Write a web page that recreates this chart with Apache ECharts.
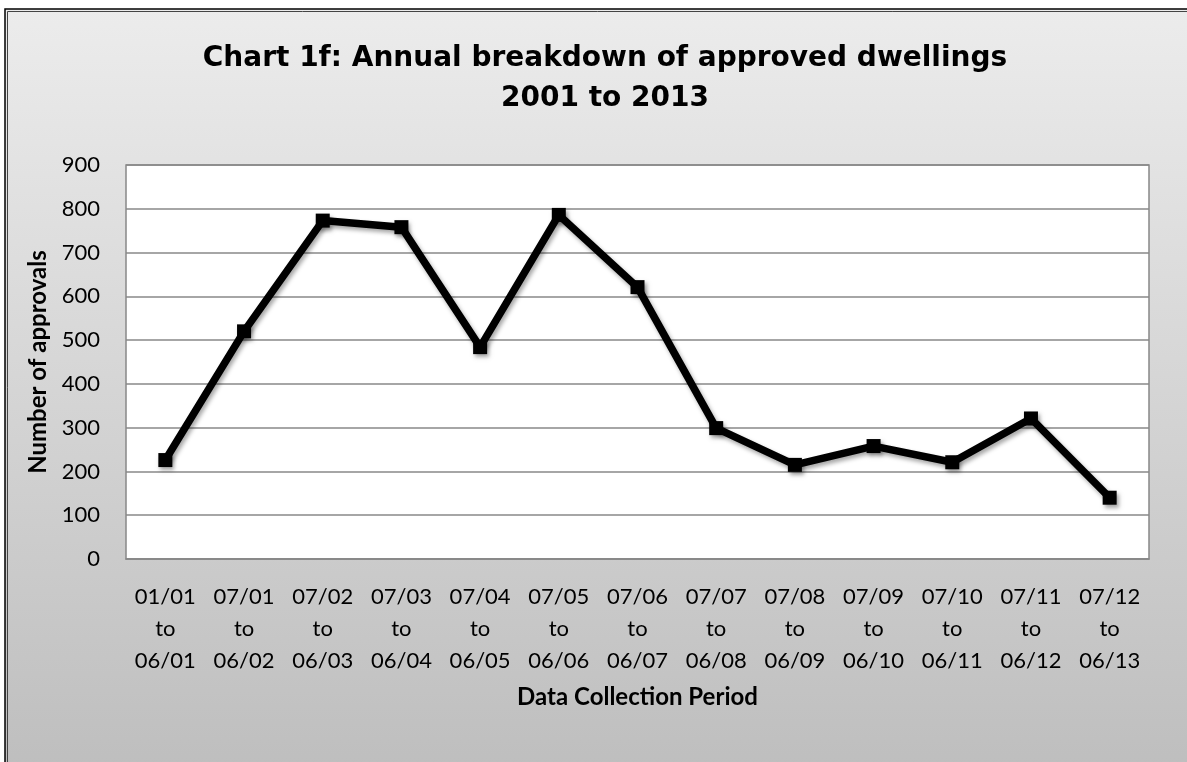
<!DOCTYPE html>
<html>
<head>
<meta charset="utf-8">
<script src="https://cdn.jsdelivr.net/npm/echarts@6/dist/echarts.min.js"></script>
<style>
html,body{margin:0;padding:0;background:#fff;}
#chart{width:1187px;height:762px;}
</style>
</head>
<body>
<div id="chart"></div>
<script>
// Data
var periods = ['01/01 to 06/01','07/01 to 06/02','07/02 to 06/03','07/03 to 06/04','07/04 to 06/05','07/05 to 06/06','07/06 to 06/07','07/07 to 06/08','07/08 to 06/09','07/09 to 06/10','07/10 to 06/11','07/11 to 06/12','07/12 to 06/13'];
var approvals = [226, 520, 773, 758, 484, 786, 621, 299, 215, 258, 221, 321, 140];
var yTicks = {min: 0, max: 900, interval: 100};
var titleText = 'Chart 1f: Annual breakdown of approved dwellings\n2001 to 2013';
var yName = 'Number of approvals';
var xName = 'Data Collection Period';

var chart = echarts.init(document.getElementById('chart'));
var labelFont = 'Lato, "Open Sans", sans-serif';
var option = {
  animation: false,
  backgroundColor: '#ffffff',
  graphic: [
    {type:'rect', z:-100, silent:true, shape:{x:5, y:9, width:1200, height:780},
     style:{fill:new echarts.graphic.LinearGradient(0,0,0,1,[{offset:0,color:'#ececec'},{offset:1,color:'#bdbdbd'}]), stroke:'#000', lineWidth:1.5}},
    {type:'rect', z:-99, silent:true, shape:{x:7.5, y:11.5, width:1200, height:780},
     style:{fill:'none', stroke:'#444', lineWidth:1}}
  ],
  title: {
    text: titleText,
    left: 600, top: 34, textAlign: 'center',
    textStyle: {fontFamily:'"DejaVu Sans", Verdana, sans-serif', fontWeight:'bold', fontSize:28, lineHeight:40, color:'#000'}
  },
  grid: {left:126, right:38, top:165, bottom:203, show:true, backgroundColor:'#ffffff', borderColor:'#888888', borderWidth:1.5},
  xAxis: {
    type: 'category', data: periods, boundaryGap: true,
    name: xName, nameLocation: 'middle', nameGap: 126,
    nameTextStyle: {fontFamily:labelFont, fontWeight:'bold', fontSize:24, color:'#000'},
    axisLine: {show:true, lineStyle:{color:'#888888', width:1.5}},
    axisTick: {show:false},
    axisLabel: {interval:0, margin:22, fontFamily:labelFont, fontSize:22, lineHeight:32, color:'#000',
      formatter: function(v){ return v.replace(' to ', '\nto\n'); }},
    splitLine: {show:false}
  },
  yAxis: {
    type: 'value', min: yTicks.min, max: yTicks.max, interval: yTicks.interval,
    name: yName, nameLocation: 'middle', nameGap: 76, nameRotate: 90,
    nameTextStyle: {fontFamily:labelFont, fontWeight:'bold', fontSize:24, color:'#000'},
    axisLine: {show:false},
    axisTick: {show:false},
    axisLabel: {margin:26, fontFamily:labelFont, fontSize:22, color:'#000'},
    splitLine: {show:true, lineStyle:{color:'#888888', width:1.5}}
  },
  series: [{
    type: 'line', data: approvals,
    symbol: 'rect', symbolSize: 14,
    lineStyle: {color:'#000', width:7.5, shadowColor:'rgba(0,0,0,0.35)', shadowBlur:4, shadowOffsetX:2, shadowOffsetY:3},
    itemStyle: {color:'#000', borderWidth:0, shadowColor:'rgba(0,0,0,0.35)', shadowBlur:4, shadowOffsetX:2, shadowOffsetY:3},
    emphasis: {disabled:true}
  }]
};
chart.setOption(option);
</script>
</body>
</html>
